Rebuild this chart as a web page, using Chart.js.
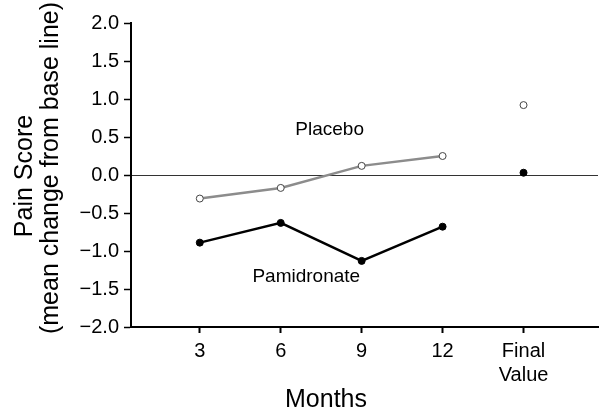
<!DOCTYPE html>
<html>
<head>
<meta charset="utf-8">
<script src="https://cdn.jsdelivr.net/npm/chart.js@4/dist/chart.umd.min.js"></script>
<style>
  html, body { margin: 0; padding: 0; background: #fff; }
  canvas { display: block; }
</style>
</head>
<body>
<canvas id="chart" width="603" height="412"></canvas>
<script>
// values
var months = ['3', '6', '9', '12', ['Final', 'Value']];
var placebo = [-0.31, -0.17, 0.12, 0.25, 0.92];
var pamidronate = [-0.89, -0.63, -1.13, -0.68, 0.03];
var yTicks = [-2.0, -1.5, -1.0, -0.5, 0.0, 0.5, 1.0, 1.5, 2.0];

// series labels written inside the plot: [text, x, y] in data units
var seriesNotes = [
  ['Placebo', 1.18, 0.60],
  ['Pamidronate', 0.65, -1.34]
];

var FONT = '"Liberation Sans", Arial, sans-serif';

function toPoints(arr) {
  return arr.map(function (v, i) { return { x: i, y: v }; });
}

// the final value is not joined to the monthly line
function skipFinal(ctx) {
  return ctx.p1DataIndex === months.length - 1 ? 'transparent' : undefined;
}

var textPlugin = {
  id: 'texts',
  afterDraw: function (chart) {
    var c = chart.ctx;
    var xs = chart.scales.x, ys = chart.scales.y;
    c.save();
    c.fillStyle = '#000';

    // notes beside the lines
    c.font = '19px ' + FONT;
    c.textAlign = 'left';
    c.textBaseline = 'middle';
    seriesNotes.forEach(function (n) {
      c.fillText(n[0], xs.getPixelForValue(n[1]), ys.getPixelForValue(n[2]));
    });

    // x title
    c.font = '25px ' + FONT;
    c.textAlign = 'center';
    c.textBaseline = 'alphabetic';
    c.fillText('Months', 326, 407);

    // y title, two lines
    c.save();
    c.translate(32, 176);
    c.rotate(-Math.PI / 2);
    c.fillText('Pain Score', 0, 0);
    c.restore();
    c.save();
    c.translate(58, 168);
    c.rotate(-Math.PI / 2);
    c.fillText('(mean change from base line)', 0, 0);
    c.restore();

    c.restore();
  }
};

new Chart(document.getElementById('chart'), {
  type: 'line',
  data: {
    datasets: [
      {
        label: 'Placebo',
        data: toPoints(placebo),
        borderColor: '#8c8c8c',
        borderWidth: 2.5,
        pointRadius: 3.5,
        pointBackgroundColor: '#fff',
        pointBorderColor: '#444',
        pointBorderWidth: 1,
        segment: { borderColor: skipFinal }
      },
      {
        label: 'Pamidronate',
        data: toPoints(pamidronate),
        borderColor: '#000',
        borderWidth: 2.5,
        pointRadius: 3.5,
        pointBackgroundColor: '#000',
        pointBorderColor: '#000',
        pointBorderWidth: 1,
        segment: { borderColor: skipFinal }
      }
    ]
  },
  options: {
    responsive: false,
    animation: false,
    layout: { padding: { top: 23, right: 2, left: 0, bottom: 0 } },
    plugins: {
      legend: { display: false },
      tooltip: { enabled: false }
    },
    scales: {
      x: {
        type: 'linear',
        min: -0.85,
        max: 4.92,
        afterBuildTicks: function (s) {
          s.ticks = months.map(function (m, i) { return { value: i }; });
        },
        afterFit: function (s) { s.height = 85; },
        ticks: {
          autoSkip: false,
          maxRotation: 0,
          padding: 6,
          color: '#000',
          font: { family: FONT, size: 20 },
          callback: function (v) { return months[v]; }
        },
        grid: { drawOnChartArea: false, tickLength: 6, tickColor: '#000', tickWidth: 2 },
        border: { color: '#000', width: 2 }
      },
      y: {
        min: -2,
        max: 2,
        afterBuildTicks: function (s) {
          s.ticks = yTicks.map(function (v) { return { value: v }; });
        },
        afterFit: function (s) { s.width = 131; },
        ticks: {
          padding: 5,
          color: '#000',
          font: { family: FONT, size: 20 },
          callback: function (v) {
            return (v < 0 ? '\u2212' : '') + Math.abs(v).toFixed(1);
          }
        },
        grid: {
          tickLength: 7,
          tickColor: '#000',
          tickWidth: 1.5,
          lineWidth: 1,
          color: function (ctx) {
            return ctx.tick && ctx.tick.value === 0 ? '#333' : 'transparent';
          }
        },
        border: { color: '#000', width: 2 }
      }
    }
  },
  plugins: [textPlugin]
});
</script>
</body>
</html>
